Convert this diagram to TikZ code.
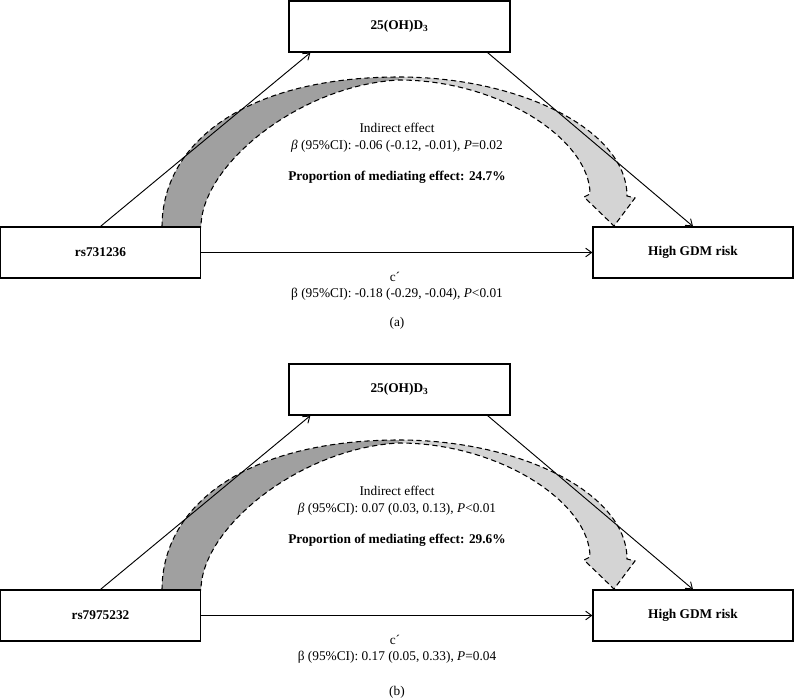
\documentclass[tikz,border=0pt]{standalone}
\usepackage{fontspec}
\setmainfont{Liberation Serif}
\usetikzlibrary{arrows.meta,calc}
\definecolor{darkband}{RGB}{160,160,160}
\definecolor{lightband}{RGB}{212,212,212}
\tikzset{
  box/.style={draw, line width=0.9pt, fill=white, inner sep=0pt, minimum height=38.25pt, font=\fontsize{10}{12}\selectfont\bfseries},
  sidebox/.style={box, minimum width=150pt},
  midbox/.style={box, minimum width=165.75pt},
  conn/.style={line width=0.7pt, -{Straight Barb[length=4.5pt,width=6.5pt]}},
  bandline/.style={line width=0.8pt, dash pattern=on 4pt off 2.5pt},
  txt/.style={inner sep=0pt, font=\fontsize{10}{12}\selectfont},
  btxt/.style={txt, font=\fontsize{10}{12}\selectfont\bfseries},
}
\newcommand{\mypanel}[7]{%
\begin{scope}[shift={(0,#1)}]
  % curved indirect-effect arrow
  \fill[darkband] (162,227) .. controls (162,140) and (250,77) .. (399,77) -- (399,80) .. controls (300,85) and (201,165) .. (201,227) -- cycle;
  \fill[lightband] (399,77) .. controls (520,77) and (627,130) .. (627,196) -- (635,198) -- (614,226) -- (584,197) -- (590,194) .. controls (590,140) and (500,80) .. (399,80) -- cycle;
  \draw[bandline] (162,227) .. controls (162,140) and (250,77) .. (399,77) .. controls (520,77) and (627,130) .. (627,196) -- (635,198) -- (614,226) -- (584,197) -- (590,194) .. controls (590,140) and (500,80) .. (399,80) .. controls (300,85) and (201,165) .. (201,227);
  % boxes
  \node[midbox] (M#2) at (399.5,26.5) {25(OH)D\textsubscript{3}};
  \node[sidebox] (L#2) at (100.5,252.5) {#3};
  \node[sidebox] (R#2) at (693,252.5) {High GDM risk};
  % connectors
  \draw[conn] (L#2.north) -- ($(M#2.south west)+(22,0)$);
  \draw[conn] ($(M#2.south east)+(-23,0)$) -- (R#2.north);
  \draw[conn] (L#2.east) -- (R#2.west);
  % texts
  \node[txt] (ie#2) at (397,128) {Indirect effect};
  \node[txt] (ib#2) at (397,146) {#4};
  \node[btxt] (pr#2) at (397,177) {#5};
  \node[txt] (cp#2) at (395,277) {c´};
  \node[txt] (db#2) at (397,294) {#6};
  \node[txt] (pl#2) at (397,#7) {(#2)};
\end{scope}}
\begin{document}
\begin{tikzpicture}[x=0.75pt,y=-0.75pt]
\useasboundingbox (0,0) rectangle (794,700);
\mypanel{0}{a}{rs731236}{\textit{β} (95\%CI): -0.06 (-0.12, -0.01), \textit{P}=0.02}{Proportion of mediating effect: 24.7\%}{β (95\%CI): -0.18 (-0.29, -0.04), \textit{P}<0.01}{323}
\mypanel{363}{b}{rs7975232}{\textit{β} (95\%CI): 0.07 (0.03, 0.13), \textit{P}<0.01}{Proportion of mediating effect: 29.6\%}{β (95\%CI): 0.17 (0.05, 0.33), \textit{P}=0.04}{329}
\end{tikzpicture}
\end{document}
